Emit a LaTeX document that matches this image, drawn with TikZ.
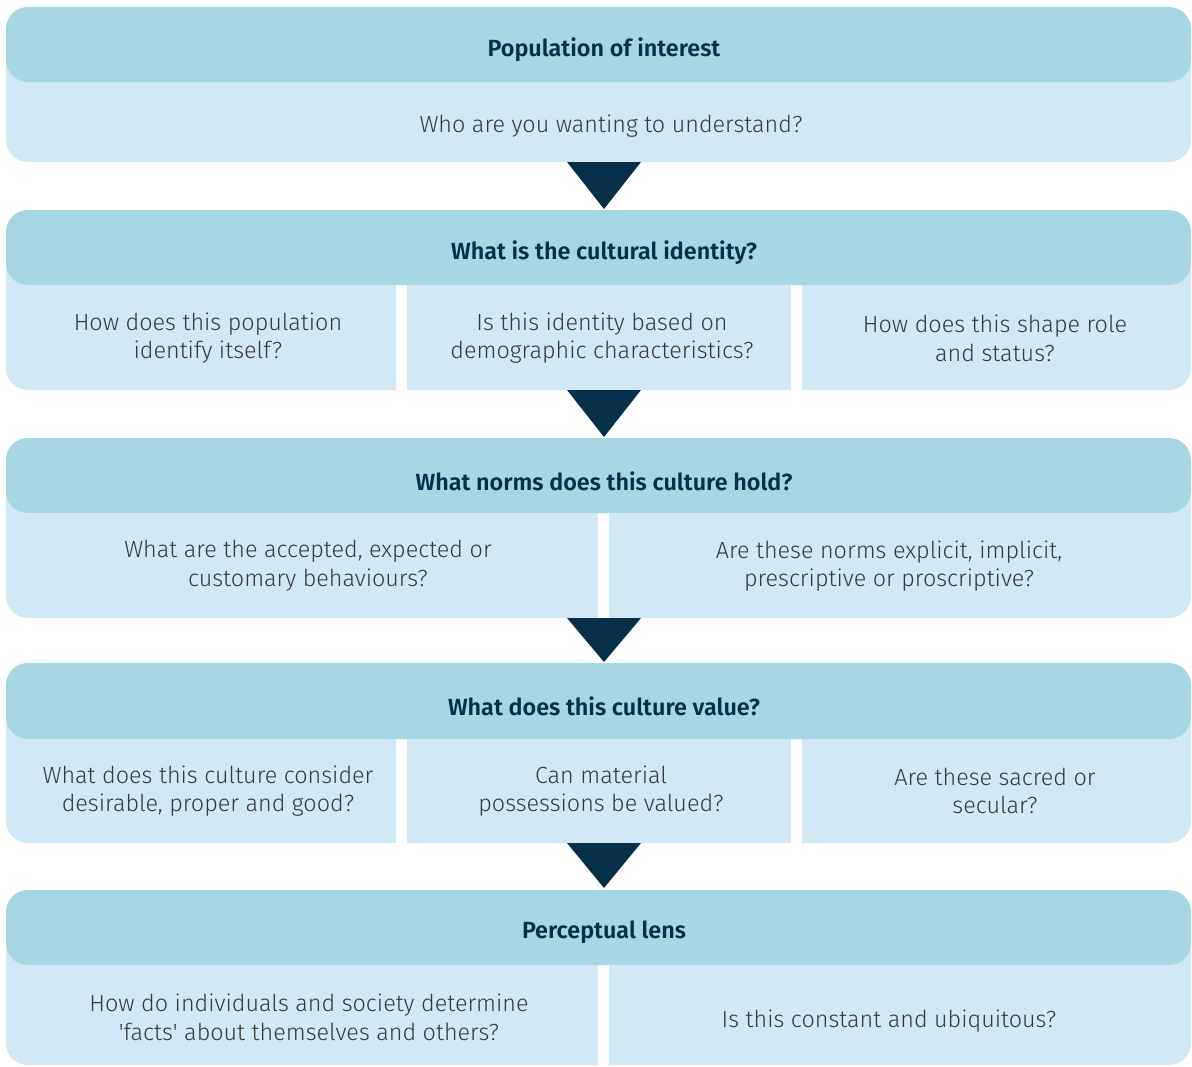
\documentclass[tikz,border=0pt]{standalone}
\usepackage{fontspec}
\setmainfont{Fira Sans}[UprightFont=* Light, BoldFont=* SemiBold]

\definecolor{hdrblue}{HTML}{A6D7E2}
\definecolor{bodyblue}{HTML}{D2E9F5}
\definecolor{navy}{HTML}{06304A}
\definecolor{txtgray}{HTML}{383838}

\tikzset{
  hdrbox/.style={fill=hdrblue, rounded corners=12.5pt},
  bodybox/.style={fill=bodyblue, rounded corners=12.5pt},
  gapbox/.style={fill=white},
  downarrow/.style={fill=navy},
  htext/.style={text=navy, font=\bfseries\fontsize{13.3}{15}\selectfont},
  qtext/.style={text=txtgray, align=center, font=\fontsize{13.3}{16.4}\selectfont}
}

\begin{document}
\begin{tikzpicture}[x=0.02cm, y=-0.02cm]
    \useasboundingbox (0,0) rectangle (1192,1066);

    % Population of interest
    \fill[bodybox] (6,45) rectangle (1191,162);
    \fill[hdrbox] (6,7) rectangle (1191,82);
    \node[htext] (h1) at (604,50) {Population of interest};
    \node[qtext] (q1) at (611,126) {Who are you wanting to understand?};

    \fill[downarrow] (567,162) -- (641,162) -- (604,209) -- cycle;

    % Cultural identity
    \fill[bodybox] (6,250) rectangle (1191,390);
    \fill[gapbox] (396,280) rectangle (407,391);
    \fill[gapbox] (791,280) rectangle (802,391);
    \fill[hdrbox] (6,210) rectangle (1191,285);
    \node[htext] (h2) at (604,253) {What is the cultural identity?};
    \node[qtext] (q2a) at (208,338) {How does this population\\identify itself?};
    \node[qtext] (q2b) at (602,338) {Is this identity based on\\demographic characteristics?};
    \node[qtext] (q2c) at (995,338) {How does this shape role\\and status?};

    \fill[downarrow] (567,390) -- (641,390) -- (604,437) -- cycle;

    % Norms
    \fill[bodybox] (6,478) rectangle (1191,618);
    \fill[gapbox] (598,508) rectangle (609,619);
    \fill[hdrbox] (6,438) rectangle (1191,513);
    \node[htext] (h3) at (604,481) {What norms does this culture hold?};
    \node[qtext] (q3a) at (308,566) {What are the accepted, expected or\\customary behaviours?};
    \node[qtext] (q3b) at (889,566) {Are these norms explicit, implicit,\\prescriptive or proscriptive?};

    \fill[downarrow] (567,618) -- (641,618) -- (604,662) -- cycle;

    % Values
    \fill[bodybox] (6,703) rectangle (1191,843);
    \fill[gapbox] (396,733) rectangle (407,844);
    \fill[gapbox] (791,733) rectangle (802,844);
    \fill[hdrbox] (6,663) rectangle (1191,739);
    \node[htext] (h4) at (604,706) {What does this culture value?};
    \node[qtext] (q4a) at (208,791) {What does this culture consider\\desirable, proper and good?};
    \node[qtext] (q4b) at (601,791) {Can material\\possessions be valued?};
    \node[qtext] (q4c) at (995,791) {Are these sacred or\\secular?};

    \fill[downarrow] (567,843) -- (641,843) -- (604,888) -- cycle;

    % Perceptual lens
    \fill[bodybox] (6,930) rectangle (1191,1065);
    \fill[gapbox] (598,960) rectangle (609,1066);
    \fill[hdrbox] (6,890) rectangle (1191,965);
    \node[htext] (h5) at (604,932) {Perceptual lens};
    \node[qtext] (q5a) at (309,1017) {How do individuals and society determine\\\textquotesingle facts\textquotesingle{} about themselves and others?};
    \node[qtext] (q5b) at (889,1021) {Is this constant and ubiquitous?};
\end{tikzpicture}
\end{document}
